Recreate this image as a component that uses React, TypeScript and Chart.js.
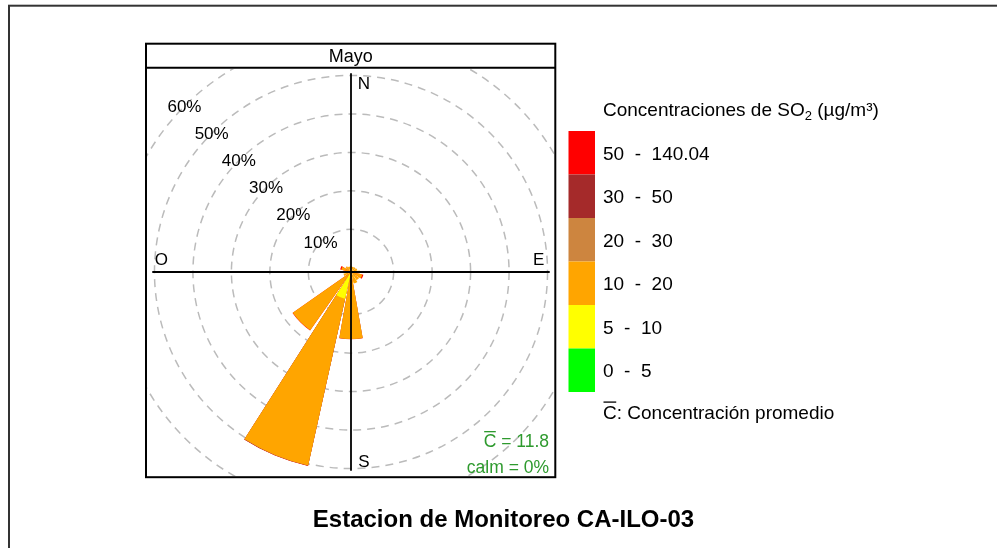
import React, { useEffect, useRef } from 'react';
import { Chart, registerables } from 'chart.js';

Chart.register(...registerables);

// ---------------- data ----------------
const directions = ['N', 'NNE', 'NE', 'ENE', 'E', 'ESE', 'SE', 'SSE', 'S', 'SSW', 'SW', 'WSW', 'W', 'WNW', 'NW', 'NNW'];
const binLabels = ['0  -  5', '5  -  10', '10  -  20', '20  -  30', '30  -  50', '50  -  140.04'];
const binColors = ['#00FF00', '#FFFF00', '#FFA500', '#CD853F', '#A52A2A', '#FF0000'];
// frequency (%) of each concentration bin, per wind direction
const freq0to5 = [0, 0, 0, 0, 0, 0, 0, 0, 0, 0, 0, 0, 0, 0, 0, 0];
const freq5to10 = [0, 0, 0, 0, 0, 0, 0, 0, 0, 6.0, 0, 0, 0, 0, 0, 0];
const freq10to20 = [0.4, 0.3, 0.4, 0.6, 1.2, 1.9, 1.5, 2.0, 16.3, 44.4, 17.4, 0.9, 0.8, 1.5, 0.7, 0.4];
const freq20to30 = [0, 0, 0, 0, 0, 0, 0, 0, 0.03, 0.05, 0, 0, 0, 0, 0, 0];
const freq30to50 = [0, 0, 0, 0, 0, 0, 0, 0, 0, 0.05, 0, 0, 0, 0, 0, 0];
const freq50to140 = [0, 0, 0, 0, 0, 0.3, 0, 0, 0.07, 0.07, 0.07, 0, 0, 0.3, 0, 0];
const freqByBin = [freq0to5, freq5to10, freq10to20, freq20to30, freq30to50, freq50to140];

const radialTicks = [0, 10, 20, 30, 40, 50, 60];
const compassLabels = ['N', 'E', 'S', 'O'];
const meanConc = 11.8;
const calmPct = 0;
const panelTitle = 'Mayo';
const legendTitleMain = 'Concentraciones de SO';
const legendTitleSub = '2';
const legendTitleEnd = ' (µg/m³)';
const legendMeanText = ': Concentración promedio';
const chartTitle = 'Estacion de Monitoreo CA-ILO-03';

// ---------------- style / layout ----------------
const FONT = '"Liberation Sans", Arial, Helvetica, sans-serif';
const W = 997;
const H = 548;
const wedgeAngle = 20;
const gapAngle = 2.5;
const rMin = -1.09;
const rMax = 60;
const CX = 351;
const CY = 272.5;
const RADIUS = 235.2;
const panel = { x: 146, y: 43.7, r: 555.3, b: 477.2, strip: 67.7 };
const TRANSPARENT = 'rgba(0,0,0,0)';

function capBase(center: number, size: number) {
  return center + 0.358 * size;
}

function buildData() {
  const cumulative: number[][] = [];
  let running = directions.map(() => 0);
  freqByBin.forEach((bin) => {
    running = running.map((v, d) => v + bin[d]);
    cumulative.push(running.slice());
  });
  const labels = directions.flatMap((d) => [d, '']);
  const datasets = freqByBin.map((bin, k) => {
    const data: number[] = [];
    const colors: string[] = [];
    directions.forEach((_, d) => {
      data.push(cumulative[k][d]);
      colors.push(bin[d] > 0 ? binColors[k] : TRANSPARENT);
      data.push(0);
      colors.push(TRANSPARENT);
    });
    return {
      label: binLabels[k],
      data,
      backgroundColor: colors,
      borderWidth: 0,
      angle: data.map((_, i) => (i % 2 === 0 ? wedgeAngle : gapAngle)),
    };
  });
  const maxTotal = Math.max(...cumulative[cumulative.length - 1]);
  return { labels, datasets, maxTotal };
}

function drawOverlineC(ctx: CanvasRenderingContext2D, x: number, baseline: number, size: number, color: string) {
  const w = ctx.measureText('C').width;
  const top = baseline - 0.716 * size - 2.8;
  ctx.save();
  ctx.strokeStyle = color;
  ctx.lineWidth = 1.3;
  ctx.beginPath();
  ctx.moveTo(x + 0.5, top);
  ctx.lineTo(x + w - 0.5, top);
  ctx.stroke();
  ctx.restore();
}

export default function App() {
  const ref = useRef<HTMLCanvasElement>(null);

  useEffect(() => {
    if (!ref.current) return;
    const { labels, datasets, maxTotal } = buildData();

    const decor = {
      id: 'decor',
      beforeDraw(chart: any) {
        const ctx = chart.ctx as CanvasRenderingContext2D;
        ctx.save();
        ctx.fillStyle = '#ffffff';
        ctx.fillRect(0, 0, chart.width, chart.height);
        ctx.beginPath();
        ctx.rect(panel.x + 1, panel.strip + 1, panel.r - panel.x - 2, panel.b - panel.strip - 2);
        ctx.clip();
      },
      beforeDatasetsDraw(chart: any) {
        chart.ctx.restore();
      },
      afterDatasetsDraw(chart: any) {
        const ctx = chart.ctx as CanvasRenderingContext2D;
        const s = chart.scales.r;
        const cx = s.xCenter;
        const cy = s.yCenter;
        const L = s.getDistanceFromCenterForValue(maxTotal);
        ctx.save();
        ctx.strokeStyle = '#000';
        ctx.lineWidth = 1.8;
        ctx.beginPath();
        ctx.moveTo(cx, cy - L);
        ctx.lineTo(cx, cy + L);
        ctx.moveTo(cx - L, cy);
        ctx.lineTo(cx + L, cy);
        ctx.stroke();
        ctx.restore();
      },
      afterDraw(chart: any) {
        const ctx = chart.ctx as CanvasRenderingContext2D;
        const s = chart.scales.r;
        const cx = s.xCenter;
        const cy = s.yCenter;
        const L = s.getDistanceFromCenterForValue(maxTotal);
        ctx.save();

        // outer border
        ctx.strokeStyle = '#333';
        ctx.lineWidth = 2;
        ctx.strokeRect(9, 5.7, 1200, 800);

        // panel frame + strip
        ctx.strokeStyle = '#000';
        ctx.lineWidth = 2;
        ctx.strokeRect(panel.x, panel.y, panel.r - panel.x, panel.b - panel.y);
        ctx.beginPath();
        ctx.moveTo(panel.x, panel.strip);
        ctx.lineTo(panel.r, panel.strip);
        ctx.stroke();

        ctx.fillStyle = '#000';
        ctx.textAlign = 'center';
        ctx.textBaseline = 'alphabetic';
        ctx.font = `18px ${FONT}`;
        ctx.fillText(panelTitle, (panel.x + panel.r) / 2, capBase(56, 18));

        // compass labels
        ctx.font = `17px ${FONT}`;
        const d = L - 10;
        const p = 13;
        const compassPos = [
          [cx + p, cy - d],
          [cx + d - 1, cy - p],
          [cx + p, cy + d],
          [cx - d - 1, cy - p],
        ];
        compassLabels.forEach((lab, i) => {
          ctx.fillText(lab, compassPos[i][0], capBase(compassPos[i][1], 17));
        });

        // percentage labels along 315°
        radialTicks.slice(1).forEach((v) => {
          const r = s.getDistanceFromCenterForValue(v) + 0.5;
          const x = cx - r * Math.SQRT1_2;
          const y = cy - r * Math.SQRT1_2;
          ctx.fillText(`${v}%`, x, capBase(y, 17));
        });

        // stats text
        const green = '#2E9A2E';
        ctx.fillStyle = green;
        ctx.textAlign = 'left';
        ctx.font = `17.5px ${FONT}`;
        const meanStr = `C = ${meanConc}`;
        const mw = ctx.measureText(meanStr).width;
        ctx.fillText(meanStr, 549 - mw, 447);
        drawOverlineC(ctx, 549 - mw, 447, 17.5, green);
        const calmStr = `calm = ${calmPct}%`;
        const cw = ctx.measureText(calmStr).width;
        ctx.fillText(calmStr, 549 - cw, 472.5);

        // legend
        ctx.fillStyle = '#000';
        ctx.font = `19px ${FONT}`;
        let tx = 603;
        const tb = 115.5;
        ctx.fillText(legendTitleMain, tx, tb);
        tx += ctx.measureText(legendTitleMain).width;
        ctx.font = `13px ${FONT}`;
        ctx.fillText(legendTitleSub, tx, tb + 4.5);
        tx += ctx.measureText(legendTitleSub).width;
        ctx.font = `19px ${FONT}`;
        ctx.fillText(legendTitleEnd, tx, tb);

        const bx = 568.5;
        const bw = 26.5;
        const top = 131;
        const bh = 43.5;
        for (let i = 0; i < binColors.length; i++) {
          const k = binColors.length - 1 - i;
          ctx.fillStyle = binColors[k];
          ctx.fillRect(bx, top + i * bh, bw, bh);
          ctx.fillStyle = '#000';
          ctx.fillText(binLabels[k], 603, capBase(top + i * bh + bh / 2, 19));
        }
        ctx.fillText('C' + legendMeanText, 603, 418.5);
        drawOverlineC(ctx, 603, 418.5, 19, '#000');

        // title
        ctx.textAlign = 'center';
        ctx.font = `bold 24px ${FONT}`;
        ctx.fillText(chartTitle, 503.5, capBase(518.5, 24));

        ctx.restore();
      },
    };

    const chart = new Chart(ref.current, {
      type: 'polarArea',
      data: { labels, datasets } as any,
      options: {
        responsive: false,
        devicePixelRatio: 1,
        animation: false,
        events: [],
        layout: {
          padding: {
            left: CX - RADIUS,
            top: CY - RADIUS,
            right: W - (CX + RADIUS),
            bottom: H - (CY + RADIUS),
          },
        },
        plugins: {
          legend: { display: false },
          tooltip: { enabled: false },
          title: { display: false },
        },
        scales: {
          r: {
            type: 'radialLinear',
            min: rMin,
            max: rMax,
            startAngle: -wedgeAngle / 2,
            ticks: { display: false },
            afterBuildTicks: (sc: any) => {
              sc.ticks = radialTicks.map((v) => ({ value: v }));
            },
            grid: { circular: true, color: '#BBBBBB', lineWidth: 1.5 },
            border: { dash: [8, 6] },
            angleLines: { display: false },
            pointLabels: { display: false },
          } as any,
        },
      } as any,
      plugins: [decor],
    });
    return () => chart.destroy();
  }, []);

  return (
    <div style={{ position: 'absolute', left: 0, top: 0, width: W, height: H, background: '#fff', overflow: 'hidden' }}>
      <canvas ref={ref} width={W} height={H} style={{ display: 'block', width: W, height: H }} />
    </div>
  );
}
